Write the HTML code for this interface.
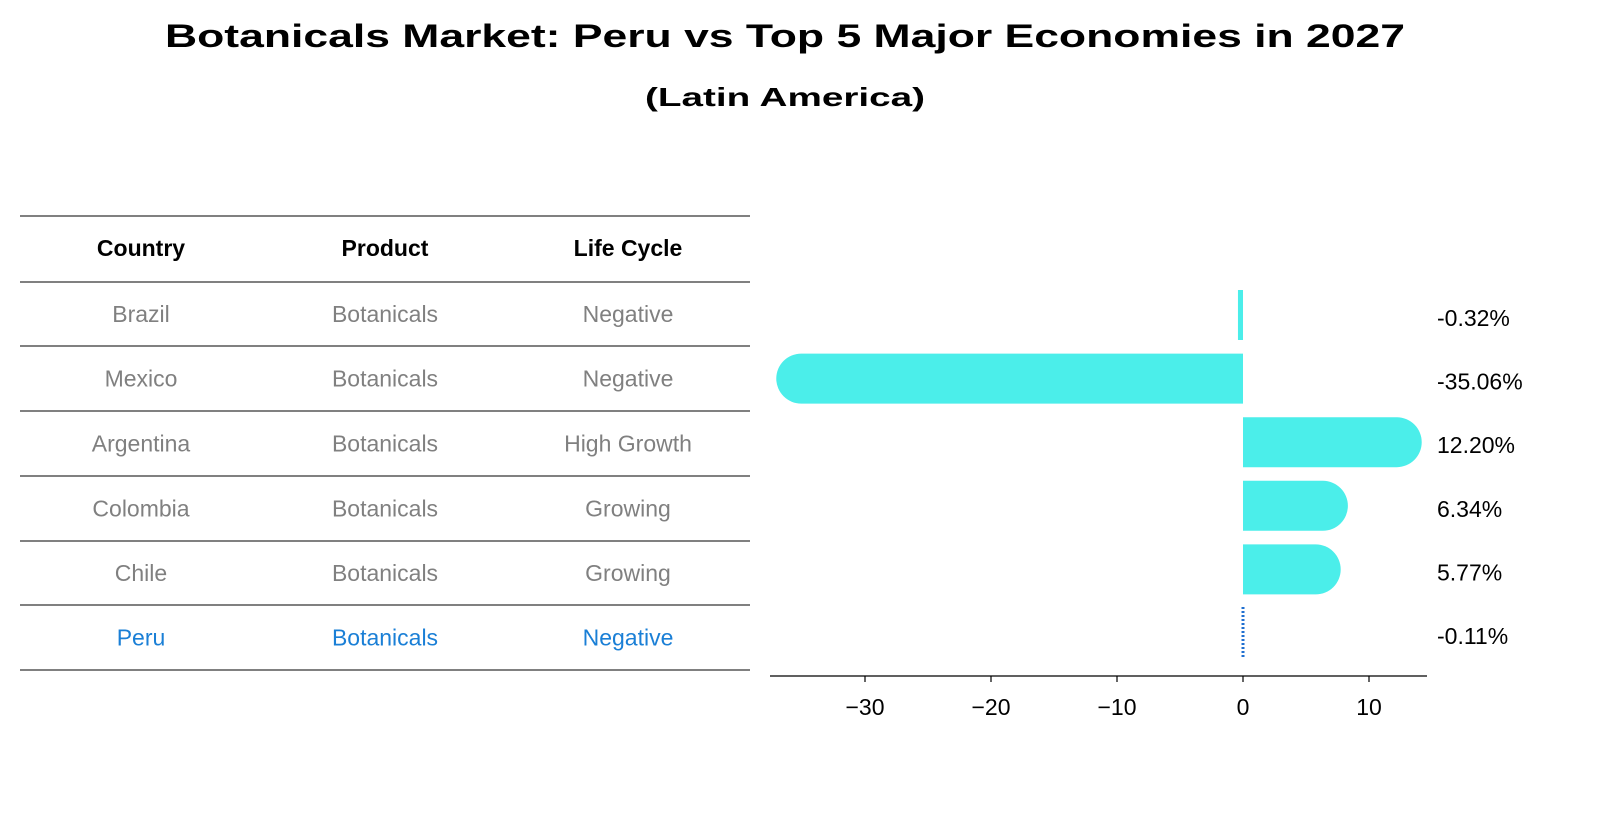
<!DOCTYPE html>
<html><head><meta charset="utf-8"><style>
body{margin:0;background:#fff;}
svg text{font-family:"Liberation Sans","DejaVu Sans",sans-serif;}
</style></head><body>
<svg width="1614" height="823" viewBox="0 0 1614 823" xmlns="http://www.w3.org/2000/svg">
<rect width="1614" height="823" fill="#fff"/>
<text x="785" y="47" text-anchor="middle" font-size="32" font-weight="bold" textLength="1240" lengthAdjust="spacingAndGlyphs">Botanicals Market: Peru vs Top 5 Major Economies in 2027</text>
<text x="785" y="106" text-anchor="middle" font-size="26" font-weight="bold" textLength="280" lengthAdjust="spacingAndGlyphs">(Latin America)</text>
<g id="table"></g>
<g id="bars"></g>
</svg>
<script>
const countries=["Brazil","Mexico","Argentina","Colombia","Chile","Peru"];
const products=["Botanicals","Botanicals","Botanicals","Botanicals","Botanicals","Botanicals"];
const lifeCycles=["Negative","Negative","High Growth","Growing","Growing","Negative"];
const values=[-0.32,-35.06,12.20,6.34,5.77,-0.11];
const valueLabels=["-0.32%","-35.06%","12.20%","6.34%","5.77%","-0.11%"];
const tickValues=[-30,-20,-10,0,10];
const tickLabels=["\u221230","\u221220","\u221210","0","10"];
const NS="http://www.w3.org/2000/svg";
function mk(t,a,p){const e=document.createElementNS(NS,t);for(const k in a)e.setAttribute(k,a[k]);p.appendChild(e);return e;}
const tbl=document.getElementById('table');
const lineYs=[216,282,346,411,476,541,605,670];
lineYs.forEach((y,i)=>{const l=mk('line',{x1:20,x2:750,y1:y,y2:y,stroke:'#000','stroke-width':1},tbl);

});
const colX=[141,385,628];
["Country","Product","Life Cycle"].forEach((h,i)=>{const t=mk('text',{x:colX[i],y:256,'text-anchor':'middle','font-size':23,'font-weight':'bold'},tbl);t.textContent=h;

});
countries.forEach((c,r)=>{const y=(lineYs[r+1]+lineYs[r+2])/2+8;const col=c==="Peru"?"#1a7fd6":"#808080";
[c,products[r],lifeCycles[r]].forEach((v,i)=>{const t=mk('text',{x:colX[i],y:y,'text-anchor':'middle','font-size':23,fill:col},tbl);t.textContent=v;

});});
const g=document.getElementById('bars');
const x0=1243,scale=12.6;
const X=v=>x0+v*scale;
const rowY=i=>315+i*63.6;
const bh=50,rad=25;
values.forEach((v,i)=>{const cy=rowY(i);const xv=X(v);
 if(countries[i]==="Peru"){const l=mk('line',{x1:x0,x2:x0,y1:cy-26,y2:cy+26,stroke:'#1f6fd0','stroke-width':3,'stroke-dasharray':'2 2'},g);
  return;}
 let el;
 if(Math.abs(xv-x0)<rad){el=mk('rect',{x:Math.min(x0,xv)-1,y:cy-bh/2,width:Math.max(3,Math.abs(xv-x0)+1),height:bh,fill:'#4beeea'},g);}
 else{const s=v<0?-1:1;
  el=mk('path',{d:`M${x0},${cy-rad} L${xv},${cy-rad} A${rad},${rad} 0 0 ${s>0?1:0} ${xv},${cy+rad} L${x0},${cy+rad} Z`,fill:'#4beeea'},g);}
 
 
});
valueLabels.forEach((s,i)=>{const t=mk('text',{x:1437,y:rowY(i)+11,'font-size':23},g);t.textContent=s;

});
const ax=mk('line',{x1:770,x2:1427,y1:676,y2:676,stroke:'#000','stroke-width':1.2},g);


tickValues.forEach((v,i)=>{const x=X(v);
 const tk=mk('line',{x1:x,x2:x,y1:676,y2:682,stroke:'#000','stroke-width':1.2},g);
 
 
 const t=mk('text',{x:x,y:715,'text-anchor':'middle','font-size':23},g);t.textContent=tickLabels[i];
 
 });
</script>
</body></html>
